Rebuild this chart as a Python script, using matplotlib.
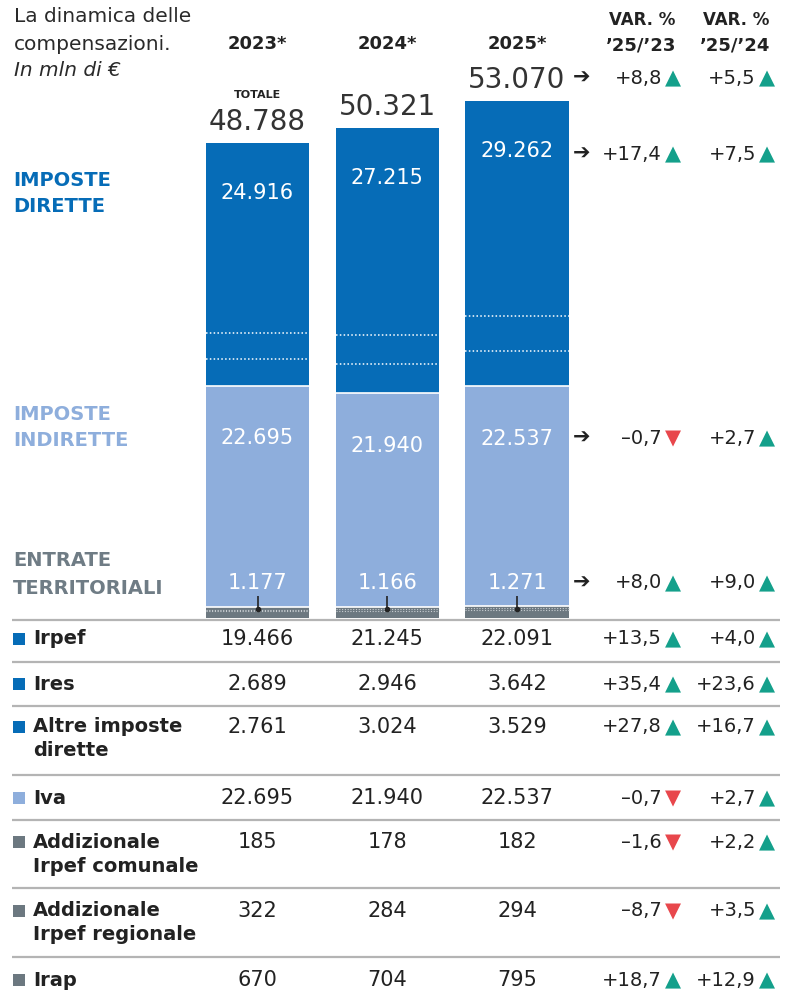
import numpy as np
import matplotlib
matplotlib.use("Agg")
import matplotlib.pyplot as plt
import matplotlib.transforms as mtransforms
from matplotlib.patches import Rectangle


# Dati (mln di euro)
years = ['2023*', '2024*', '2025*']
totale = [48788, 50321, 53070]
dirette = [24916, 27215, 29262]
indirette = [22695, 21940, 22537]
territoriali = [1177, 1166, 1271]

irpef = [19466, 21245, 22091]
ires = [2689, 2946, 3642]
altre = [2761, 3024, 3529]
iva = [22695, 21940, 22537]
add_comunale = [185, 178, 182]
add_regionale = [322, 284, 294]
irap = [670, 704, 795]

# var. % dei blocchi: totale, dirette, indirette, territoriali
blocchi_var_23 = [8.8, 17.4, -0.7, 8.0]
blocchi_var_24 = [5.5, 7.5, 2.7, 9.0]

table_labels = ['Irpef', 'Ires', 'Altre imposte\ndirette', 'Iva',
                'Addizionale\nIrpef comunale', 'Addizionale\nIrpef regionale', 'Irap']
table_groups = ['dir', 'dir', 'dir', 'ind', 'ter', 'ter', 'ter']
table_values = [irpef, ires, altre, iva, add_comunale, add_regionale, irap]
var_23 = [13.5, 35.4, 27.8, -0.7, -1.6, -8.7, 18.7]
var_24 = [4.0, 23.6, 16.7, 2.7, 2.2, 3.5, 12.9]


# Colori
BLUE = '#066cb7'
LIGHT = '#8eaedc'
GRAY = '#6c7880'
GRAY_TXT = '#6f7c85'
GREEN = '#14a08b'
RED = '#e8474c'
TXT = '#222222'
LINE = '#b4b4b4'
group_colors = {'dir': BLUE, 'ind': LIGHT, 'ter': GRAY}


def fmt_int(v):
    return f"{v:,}".replace(',', '.')

def fmt_pct(v):
    sign = '+' if v >= 0 else '\u2013'
    return sign + f"{abs(v):.1f}".replace('.', ',')


fig = plt.figure(figsize=(7.88, 10), dpi=100)
fig.patch.set_facecolor('white')

# bar axes: y=0 at pixel 618, 55000 -> 535.5 px
ax = fig.add_axes([127.75 / 788, 0.382, 519 / 788, 0.5355])
ax.set_xlim(-1, 3)
ax.set_ylim(0, 55000)
ax.axis('off')

# overlay in pixel coordinates for texts and table
ov = fig.add_axes([0, 0, 1, 1])
ov.set_xlim(0, 788)
ov.set_ylim(1000, 0)
ov.axis('off')
ov.patch.set_alpha(0)

x = np.arange(len(years))
w = 0.794
terr = np.array(territoriali)
ind = np.array(indirette)
dirv = np.array(dirette)
base_dir = terr + ind

ax.bar(x, terr, w, color=GRAY, linewidth=0)
ax.bar(x, ind, w, bottom=terr, color=LIGHT, linewidth=0)
ax.bar(x, dirv, w, bottom=base_dir, color=BLUE, linewidth=0)

# separazioni
ax.hlines(terr, x - w / 2, x + w / 2, colors='white', lw=1.2)
ax.hlines(base_dir, x - w / 2, x + w / 2, colors='white', lw=1.2)
dot = (0, (1, 1.5))
ax.hlines(base_dir + np.array(ires), x - w / 2, x + w / 2, colors='white', lw=1.1, linestyles=dot)
ax.hlines(base_dir + np.array(ires) + np.array(altre), x - w / 2, x + w / 2,
          colors='white', lw=1.1, linestyles=dot)
ax.hlines(np.array(irap), x - w / 2, x + w / 2, colors='#c9ced2', lw=0.8, linestyles=dot)
ax.hlines(np.array(irap) + np.array(add_comunale), x - w / 2, x + w / 2,
          colors='#c9ced2', lw=0.8, linestyles=dot)

# etichette nelle barre
for i in range(len(years)):
    ax.text(x[i], base_dir[i] + dirv[i] - 5100, fmt_int(dirette[i]), color='white',
            ha='center', va='center', fontsize=15)
    ax.text(x[i], base_dir[i] - 5400, fmt_int(indirette[i]), color='white',
            ha='center', va='center', fontsize=15)
    ax.text(x[i], 3600, fmt_int(territoriali[i]), color='white',
            ha='center', va='center', fontsize=15)
    ax.annotate(fmt_int(totale[i]), (x[i], totale[i]), xytext=(0, 9.5),
                textcoords='offset points', ha='center', va='baseline',
                fontsize=20, color='#333333')
ax.annotate('TOTALE', (x[0], totale[0]), xytext=(0, 34.5), textcoords='offset points',
            ha='center', va='center', fontsize=8, fontweight='bold', color=TXT)

# piccolo indicatore verso le entrate territoriali
ax.vlines(x, 950, 2250, colors=TXT, lw=1.2)
ax.scatter(x, [950] * len(x), s=9, color=TXT, zorder=5)

# transform: x in categories, y in pixels
bt = mtransforms.blended_transform_factory(ax.transData, ov.transData)

# titolo
ov.text(14, 17, 'La dinamica delle', fontsize=14.5, color='#2a2a2a', va='center')
ov.text(14, 44, 'compensazioni.', fontsize=14.5, color='#2a2a2a', va='center')
ov.text(14, 70, 'In mln di €', fontsize=14.5, color='#2a2a2a', va='center', style='italic')

for i, y in enumerate(years):
    ov.text(x[i], 44, y, transform=bt, ha='center', va='center', fontsize=13,
            fontweight='bold', color=TXT)

ov.text(642, 20, 'VAR. %', ha='center', va='center', fontsize=12, fontweight='bold', color=TXT)
ov.text(641, 45, "’25/’23", ha='center', va='center', fontsize=13, fontweight='bold', color=TXT)
ov.text(736, 20, 'VAR. %', ha='center', va='center', fontsize=12, fontweight='bold', color=TXT)
ov.text(735, 45, "’25/’24", ha='center', va='center', fontsize=13, fontweight='bold', color=TXT)

# etichette dei blocchi
ov.text(13, 180, 'IMPOSTE', fontsize=14, fontweight='bold', color=BLUE, va='center')
ov.text(13, 207, 'DIRETTE', fontsize=14, fontweight='bold', color=BLUE, va='center')
ov.text(13, 414, 'IMPOSTE', fontsize=14, fontweight='bold', color=LIGHT, va='center')
ov.text(13, 441, 'INDIRETTE', fontsize=14, fontweight='bold', color=LIGHT, va='center')
ov.text(13, 561, 'ENTRATE', fontsize=14, fontweight='bold', color=GRAY_TXT, va='center')
ov.text(13, 588, 'TERRITORIALI', fontsize=14, fontweight='bold', color=GRAY_TXT, va='center')


def draw_var(yc, v, xr):
    ov.text(xr, yc, fmt_pct(v), ha='right', va='center', fontsize=14, color=TXT)
    ov.text(xr + 3, yc, '▲' if v >= 0 else '▼', ha='left', va='center', fontsize=15,
            color=GREEN if v >= 0 else RED)


block_rows = [78, 154, 438, 583]
for yc, v23, v24 in zip(block_rows, blocchi_var_23, blocchi_var_24):
    ov.text(582, yc, '➔', ha='center', va='center', fontsize=15, color=TXT)
    draw_var(yc, v23, 662)
    draw_var(yc, v24, 756)

# tabella
sep_y = [620, 662, 706, 775, 820, 888, 957]
row_y = [639, 684, 727, 798, 842, 911, 980]
for ys in sep_y:
    ov.plot([12, 780], [ys, ys], color=LINE, lw=1.6, solid_capstyle='butt')

for label, grp, vals, v23, v24, yc in zip(table_labels, table_groups, table_values,
                                          var_23, var_24, row_y):
    ov.add_patch(Rectangle((13, yc - 6), 12, 12, color=group_colors[grp], lw=0))
    for k, line in enumerate(label.split('\n')):
        ov.text(33, yc + 24 * k, line, ha='left', va='center', fontsize=14,
                fontweight='bold', color=TXT)
    for i in range(len(years)):
        ov.text(x[i], yc, fmt_int(vals[i]), transform=bt, ha='center', va='center',
                fontsize=15, color=TXT)
    draw_var(yc, v23, 662)
    draw_var(yc, v24, 756)

fig.savefig('out.png', dpi=100, facecolor='white')
